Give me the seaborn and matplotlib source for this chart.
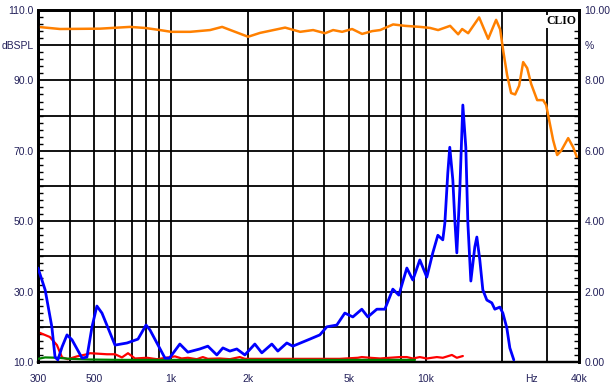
import matplotlib
matplotlib.use("Agg")
import matplotlib.pyplot as plt
from matplotlib.ticker import MultipleLocator, NullLocator, NullFormatter, FixedLocator
import seaborn as sns

# ---------------- data ----------------
spl_freq = [300, 366, 526, 689, 790, 904, 1000, 1188, 1422, 1586, 2006, 2236, 2804,
            3212, 3612, 4026, 4328, 4695, 5139, 5627, 6160, 6622, 7447, 8299, 9506,
            10410, 11187, 12470, 13410, 13900, 14680, 16210, 17590, 18900, 19600,
            20140, 20880, 21650, 22450, 23280, 24140, 25030, 25950, 27400, 28920,
            29720, 30540, 31660, 32830, 34040, 36270, 37940, 39330, 40000]
spl_db = [105.2, 104.6, 104.7, 105.2, 104.9, 104.3, 103.8, 103.8, 104.3, 105.2, 102.4,
          103.5, 105.0, 103.8, 104.3, 103.4, 104.3, 103.8, 104.6, 103.2, 104.0, 104.3,
          105.9, 105.5, 105.2, 104.9, 104.3, 105.5, 103.1, 104.6, 103.4, 107.9, 101.8,
          107.2, 104.5, 98.6, 91.5, 86.4, 86.0, 88.5, 95.2, 93.5, 89.0, 84.4, 84.4,
          83.0, 78.7, 73.0, 68.8, 70.0, 73.6, 71.0, 68.0, 68.0]

h2_freq = [300, 320, 340, 350, 359, 373, 390, 408, 447, 467, 489, 511, 535, 602, 671,
           741, 797, 826, 946, 985, 1082, 1163, 1296, 1394, 1512, 1597, 1701, 1811,
           1948, 2132, 2271, 2486, 2625, 2847, 3006, 3506, 3838, 4089, 4475, 4811,
           5173, 5610, 5925, 6427, 6909, 7427, 7842, 8431, 8899, 9480, 10100, 10660,
           11160, 11670, 11890, 12210, 12430, 12780, 13010, 13250, 13610, 13990,
           14370, 14640, 15040, 15590, 15880, 16310, 16760, 17380, 18180, 18680,
           19550, 20090, 20820, 21400, 22180]
h2_pct = [2.67, 2.05, 1.0, 0.14, 0.06, 0.43, 0.77, 0.63, 0.11, 0.14, 1.0, 1.59, 1.39,
          0.48, 0.54, 0.65, 1.05, 0.91, 0.11, 0.11, 0.51, 0.28, 0.37, 0.45, 0.2, 0.4,
          0.31, 0.37, 0.2, 0.51, 0.26, 0.51, 0.31, 0.54, 0.45, 0.65, 0.77, 1.0, 1.05,
          1.39, 1.28, 1.5, 1.28, 1.5, 1.5, 2.07, 1.9, 2.67, 2.33, 2.9, 2.41, 3.1, 3.6,
          3.47, 3.95, 5.37, 6.1, 5.17, 4.03, 3.1, 4.89, 7.3, 6.1, 3.95, 2.3, 3.27,
          3.55, 2.9, 2.05, 1.76, 1.68, 1.5, 1.56, 1.39, 0.97, 0.4, 0.06]

h3_freq = [300, 334, 356, 373, 393, 427, 467, 480, 560, 602, 641, 677, 721, 804, 880,
           1035, 1100, 1163, 1262, 1332, 1394, 1554, 1701, 1861, 1948, 2236, 3212,
           4598, 5412, 5610, 6033, 6622, 7228, 7913, 8431, 8899, 9480, 10100, 11060,
           11670, 12670, 13250, 13990]
h3_pct = [0.85, 0.71, 0.48, 0.13, 0.08, 0.16, 0.22, 0.25, 0.22, 0.22, 0.13, 0.25, 0.1,
          0.12, 0.08, 0.16, 0.1, 0.12, 0.08, 0.14, 0.09, 0.1, 0.08, 0.14, 0.09, 0.09,
          0.09, 0.09, 0.12, 0.14, 0.12, 0.1, 0.12, 0.14, 0.14, 0.1, 0.14, 0.1,
          0.14, 0.12, 0.2, 0.12, 0.17]

h4_freq = [300, 320, 359, 401, 480, 630, 1000, 3212, 9077]
h4_pct = [0.09, 0.13, 0.12, 0.09, 0.07, 0.06, 0.06, 0.06, 0.06]

grid_freqs = [400, 500, 600, 700, 800, 900, 1000, 2000, 3000, 4000, 5000, 6000,
              7000, 8000, 9000, 10000, 20000, 30000]
x_tick_pos = [300, 500, 1000, 2000, 5000, 10000, 26000, 40000]
x_tick_lab = ["300", "500", "1k", "2k", "5k", "10k", "Hz", "40k"]
y_tick_pos = [10, 30, 50, 70, 90, 100, 110]
y_tick_lab = ["10.0", "30.0", "50.0", "70.0", "90.0", "dBSPL", "110.0"]
y2_tick_pos = [0, 2, 4, 6, 8, 9, 10]
y2_tick_lab = ["0.00", "2.00", "4.00", "6.00", "8.00", "%", "10.00"]

# ---------------- style ----------------
sns.set_style("white")
plt.rcParams["font.family"] = ["Liberation Sans", "DejaVu Sans"]
lab_col = "#23205a"

fig = plt.figure(figsize=(6.14, 3.9), dpi=100)
ax = fig.add_axes([38 / 614, 1 - 362 / 390, (579 - 38) / 614, (362 - 10) / 390])
ax.set_xscale("log")
ax.set_xlim(300, 40000)
ax.set_ylim(10, 110)

for f in grid_freqs:
    ax.axvline(f, color="black", lw=1.3, zorder=0.5)
for yv in range(20, 110, 10):
    ax.axhline(yv, color="black", lw=1.3, zorder=0.5)

sns.lineplot(x=spl_freq, y=spl_db, ax=ax, color="#ff8000", linewidth=1.8,
             estimator=None, sort=False, zorder=3)

ax2 = ax.twinx()
ax2.set_ylim(0, 10)
sns.lineplot(x=h3_freq, y=h3_pct, ax=ax2, color="#ff0000", linewidth=1.6,
             estimator=None, sort=False, zorder=2)
sns.lineplot(x=h4_freq, y=h4_pct, ax=ax2, color="#008000", linewidth=1.6,
             estimator=None, sort=False, zorder=3)
sns.lineplot(x=h2_freq, y=h2_pct, ax=ax2, color="#0000ff", linewidth=2.0,
             estimator=None, sort=False, zorder=4)
ax2.set_xscale("log")
ax2.set_xlim(300, 40000)

# x ticks
ax.xaxis.set_major_locator(FixedLocator(x_tick_pos))
ax.set_xticklabels(x_tick_lab)
ax.xaxis.set_minor_locator(NullLocator())
ax.xaxis.set_minor_formatter(NullFormatter())
ax.tick_params(axis="x", which="major", length=0, pad=8.5, labelsize=7.5,
               labelcolor=lab_col)

# left y
ax.set_yticks(y_tick_pos)
ax.set_yticklabels(y_tick_lab)
ax.yaxis.set_minor_locator(MultipleLocator(2))
ax.tick_params(axis="y", which="major", length=0, pad=3, labelsize=7.5,
               labelcolor=lab_col, left=True, right=False)
ax.tick_params(axis="y", which="minor", direction="in", length=3.5, width=1,
               color="black", left=True, right=False)

# right y
ax2.set_yticks(y2_tick_pos)
ax2.set_yticklabels(y2_tick_lab)
ax2.yaxis.set_minor_locator(MultipleLocator(0.2))
ax2.tick_params(axis="y", which="major", length=0, pad=4, labelsize=7.5,
                labelcolor=lab_col)
ax2.tick_params(axis="y", which="minor", direction="in", length=3.5, width=1,
                color="black")
ax2.set_xlabel("")
ax2.set_ylabel("")
ax.set_xlabel("")
ax.set_ylabel("")

for a in (ax, ax2):
    for s in a.spines.values():
        s.set_visible(True)
        s.set_color("black")
        s.set_linewidth(2.0)
    a.spines["bottom"].set_linewidth(1.6)

ax2.text(0.996, 0.985, "CLIO", transform=ax2.transAxes, ha="right", va="top",
         fontfamily="Liberation Serif", fontweight="bold", fontsize=8.5,
         color="black", zorder=10,
         bbox=dict(facecolor="white", edgecolor="none", pad=0.5))

fig.savefig("out.png", dpi=100)
